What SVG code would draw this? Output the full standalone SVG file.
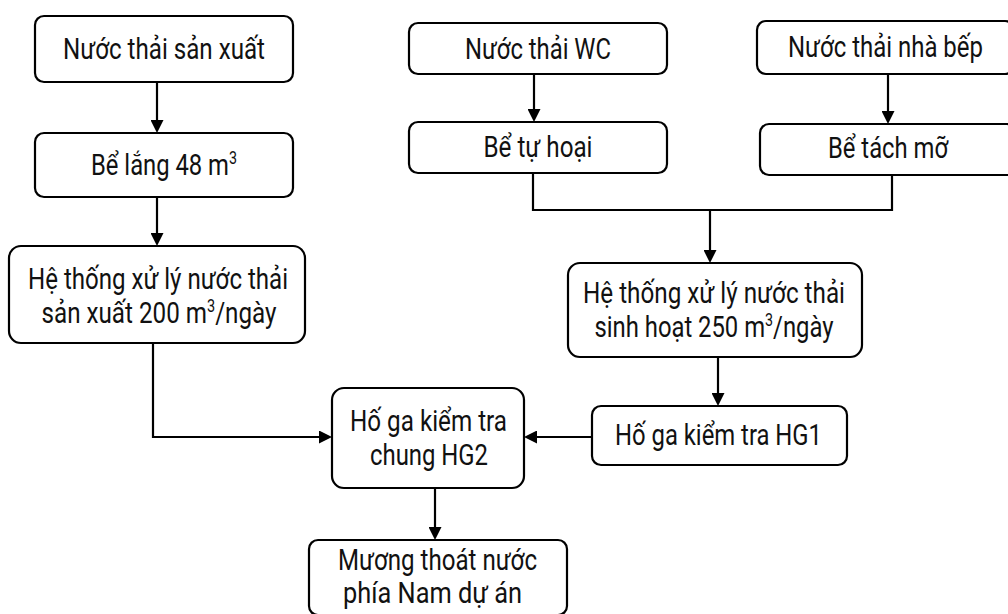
<svg xmlns="http://www.w3.org/2000/svg" width="1008" height="614" viewBox="0 0 1008 614">
  <style>
    .box { fill: #ffffff; stroke: #000000; stroke-width: 2.2; }
    .lbl { font-family: Roboto, "Liberation Sans", sans-serif; font-size: 30px; fill: #111111; text-anchor: middle; }
    .sup { font-size: 18px; }
    .edge { fill: none; stroke: #000000; stroke-width: 2.2; }
    .arrow { marker-end: url(#head); }
  </style>
  <defs>
    <marker id="head" markerUnits="userSpaceOnUse" markerWidth="14" markerHeight="13" refX="0" refY="6.5" orient="auto">
      <path d="M0,0 L13,6.5 L0,13 Z" fill="#000000"/>
    </marker>
  </defs>
  <rect width="1008" height="614" fill="#ffffff"/>

  <!-- connectors -->
  <g id="connectors">
    <path class="edge arrow" d="M157,82 V120"/>
    <path class="edge arrow" d="M157,197 V233"/>
    <path class="edge arrow" d="M534,74 V109"/>
    <path class="edge arrow" d="M888,74 V111"/>
    <path class="edge" d="M533,173 V210 H892 V175"/>
    <path class="edge arrow" d="M710,210 V250"/>
    <path class="edge arrow" d="M718,357 V393"/>
    <path class="edge arrow" d="M592,437 H537"/>
    <path class="edge arrow" d="M153,343 V437 H319"/>
    <path class="edge arrow" d="M435,488 V527"/>
  </g>

  <!-- labels use a narrowed face: scale(0.79 1) with fitted lengths -->

  <!-- production wastewater branch -->
  <g id="n-sx">
    <rect class="box" x="35" y="16" width="258" height="66" rx="9"/>
    <text class="lbl" transform="translate(164 0) scale(0.79 1)" x="0" y="59" textLength="255.7" lengthAdjust="spacingAndGlyphs">Nước thải sản xuất</text>
  </g>
  <g id="n-belang">
    <rect class="box" x="35" y="133" width="258" height="64" rx="9"/>
    <text class="lbl" transform="translate(164 0) scale(0.79 1)" x="0" y="175" textLength="184.8" lengthAdjust="spacingAndGlyphs">Bể lắng 48 m<tspan class="sup" dy="-11">3</tspan></text>
  </g>
  <g id="n-xlsx">
    <rect class="box" x="9" y="246" width="296" height="97" rx="12"/>
    <text class="lbl" transform="translate(158 0) scale(0.79 1)" x="0" y="289" textLength="329.1" lengthAdjust="spacingAndGlyphs">Hệ thống xử lý nước thải</text>
    <text class="lbl" transform="translate(159 0) scale(0.79 1)" x="0" y="323" textLength="297.5" lengthAdjust="spacingAndGlyphs">sản xuất 200 m<tspan class="sup" dy="-11">3</tspan><tspan dy="11">/ngày</tspan></text>
  </g>

  <!-- domestic wastewater branch -->
  <g id="n-wc">
    <rect class="box" x="409" y="23" width="258" height="51" rx="9"/>
    <text class="lbl" transform="translate(538 0) scale(0.79 1)" x="0" y="59" textLength="184.8" lengthAdjust="spacingAndGlyphs">Nước thải WC</text>
  </g>
  <g id="n-tuhoai">
    <rect class="box" x="409" y="122" width="258" height="51" rx="9"/>
    <text class="lbl" transform="translate(538 0) scale(0.79 1)" x="0" y="157" textLength="138" lengthAdjust="spacingAndGlyphs">Bể tự hoại</text>
  </g>
  <g id="n-bep">
    <rect class="box" x="757" y="21" width="257" height="53" rx="9"/>
    <text class="lbl" transform="translate(885.5 0) scale(0.79 1)" x="0" y="57" textLength="246.8" lengthAdjust="spacingAndGlyphs">Nước thải nhà bếp</text>
  </g>
  <g id="n-tachmo">
    <rect class="box" x="760" y="124" width="256" height="51" rx="9"/>
    <text class="lbl" transform="translate(888 0) scale(0.79 1)" x="0" y="158" textLength="151.9" lengthAdjust="spacingAndGlyphs">Bể tách mỡ</text>
  </g>
  <g id="n-xlsh">
    <rect class="box" x="568" y="263" width="294" height="94" rx="12"/>
    <text class="lbl" transform="translate(714 0) scale(0.79 1)" x="0" y="303" textLength="331.6" lengthAdjust="spacingAndGlyphs">Hệ thống xử lý nước thải</text>
    <text class="lbl" transform="translate(714 0) scale(0.79 1)" x="0" y="337" textLength="302.5" lengthAdjust="spacingAndGlyphs">sinh hoạt 250 m<tspan class="sup" dy="-11">3</tspan><tspan dy="11">/ngày</tspan></text>
  </g>

  <!-- inspection manholes and outlet -->
  <g id="n-hg1">
    <rect class="box" x="592" y="406" width="255" height="59" rx="9"/>
    <text class="lbl" transform="translate(718.5 0) scale(0.79 1)" x="0" y="445" textLength="262" lengthAdjust="spacingAndGlyphs">Hố ga kiểm tra HG1</text>
  </g>
  <g id="n-hg2">
    <rect class="box" x="332" y="388" width="192" height="100" rx="12"/>
    <text class="lbl" transform="translate(428.5 0) scale(0.79 1)" x="0" y="431" textLength="198.7" lengthAdjust="spacingAndGlyphs">Hố ga kiểm tra</text>
    <text class="lbl" transform="translate(429 0) scale(0.79 1)" x="0" y="465" textLength="149.4" lengthAdjust="spacingAndGlyphs">chung HG2</text>
  </g>
  <g id="n-muong">
    <rect class="box" x="309" y="540" width="258" height="75" rx="9"/>
    <text class="lbl" transform="translate(437.5 0) scale(0.79 1)" x="0" y="570" textLength="251.9" lengthAdjust="spacingAndGlyphs">Mương thoát nước</text>
    <text class="lbl" transform="translate(432.5 0) scale(0.79 1)" x="0" y="603" textLength="226.6" lengthAdjust="spacingAndGlyphs">phía Nam dự án</text>
  </g>
</svg>
